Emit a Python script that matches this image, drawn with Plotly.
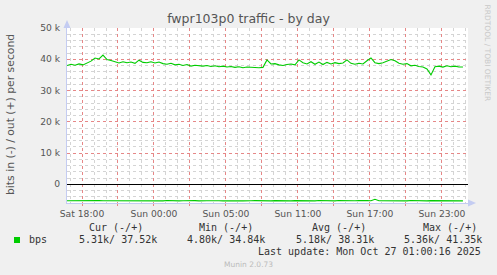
import numpy as np
import plotly.graph_objects as go

# ---------------- data ----------------
# hours after Sat 18:00 (real time, 20-minute steps starting Sat 16:45)
start_hour = -1.25
step_hour = 1 / 3

out_kbps = [
    38.0, 38.4, 38.1, 38.5, 38.2, 38.9, 39.4, 40.4, 40.1, 41.35,
    39.9, 39.6, 39.1, 38.8, 39.2, 38.9, 39.1, 38.7, 39.7, 39.0,
    38.9, 39.2, 38.8, 39.1, 38.6, 38.4, 38.7, 38.2, 38.4, 38.0,
    38.3, 37.8, 38.1, 37.9, 37.8, 38.0, 37.7, 37.9, 37.6, 37.8,
    37.5, 37.7, 37.4, 37.6, 37.3, 37.5, 37.4, 37.5, 37.3, 37.4,
    39.8, 38.5, 38.6, 38.2, 38.0, 38.3, 38.5, 38.2, 39.8, 38.9,
    38.5, 39.2, 38.4, 39.1, 38.3, 39.0, 38.5, 38.9, 38.6, 38.8,
    39.8, 38.7, 38.4, 38.7, 38.5, 39.5, 40.4, 38.9, 38.6, 38.9,
    39.4, 39.9, 39.5, 38.7, 38.4, 38.6, 37.9, 38.1, 37.7, 37.5,
    36.9, 35.0, 37.6, 37.8, 37.5, 37.9, 37.6, 37.8, 37.5, 37.52,
]

in_kbps = [
    5.30, 5.27, 5.32, 5.28, 5.22, 5.31, 5.27, 5.33, 5.24, 5.29,
    5.30, 5.21, 5.26, 5.31, 5.24, 5.28, 5.18, 5.27, 5.32, 5.25,
    5.29, 5.22, 5.30, 5.26, 5.33, 5.20, 5.28, 5.24, 5.31, 5.27,
    5.19, 5.29, 5.25, 5.32, 5.22, 5.28, 5.30, 5.19, 5.26, 5.31,
    5.24, 5.29, 5.17, 5.27, 5.33, 5.21, 5.28, 5.25, 5.30, 5.20,
    5.27, 5.32, 5.23, 5.29, 5.15, 5.26, 5.31, 5.24, 5.28, 5.21,
    5.30, 5.25, 5.33, 5.19, 5.27, 5.29, 5.22, 5.31, 5.18, 5.26,
    5.28, 5.21, 5.30, 5.25, 5.36, 5.23, 5.29, 4.80, 5.27, 5.31,
    5.24, 5.28, 5.20, 5.30, 5.26, 5.32, 5.18, 5.27, 5.29, 5.23,
    5.31, 5.25, 5.28, 5.17, 5.30, 5.26, 5.33, 5.22, 5.29, 5.31,
]

x_tick_hours = [0, 3, 6, 9, 12, 15, 18, 21, 24, 27, 30]
x_tick_labels = ["Sat 18:00", "", "Sun 00:00", "", "Sun 05:00", "",
                 "Sun 11:00", "", "Sun 17:00", "", "Sun 23:00"]
y_tick_vals = [0, 10000, 20000, 30000, 40000, 50000]
y_tick_labels = ["0", "10 k", "20 k", "30 k", "40 k", "50 k"]

legend_headers = ["Cur (-/+)", "Min (-/+)", "Avg (-/+)", "Max (-/+)"]
legend_values = ["5.31k/ 37.52k", "4.80k/ 34.84k", "5.18k/ 38.31k", "5.36k/ 41.35k"]
series_name = "bps"
title_text = "fwpr103p0 traffic - by day"
y_label = "bits in (-) / out (+) per second"
last_update = "Last update: Mon Oct 27 01:00:16 2025"
munin_version = "Munin 2.0.73"
side_text = "RRDTOOL / TOBI OETIKER"

# ---------------- figure ----------------
hours = start_hour + step_hour * np.arange(len(out_kbps))
out_vals = np.array(out_kbps) * 1000
in_vals = -np.array(in_kbps) * 1000

# minor grid positions (hourly / 2k), skipping major positions
x_minor = [h for h in range(-1, 33) if h % 3 != 0]
y_minor = [v for v in range(-6000, 50001, 2000) if v % 10000 != 0]

W, H = 497, 275
L, R, T, B = 67, 468, 28, 203

GREEN = "#00CC00"
fig = go.Figure()
fig.add_trace(go.Scatter(x=hours, y=out_vals, mode="lines",
                         line=dict(color=GREEN, width=1.1), showlegend=False))
fig.add_trace(go.Scatter(x=hours, y=in_vals, mode="lines",
                         line=dict(color=GREEN, width=1.1), showlegend=False))

MAJ = "rgb(230,135,135)"
MIN = "rgb(212,212,212)"
AX = "#C4CCF2"
DOT = "dot"

fig.update_xaxes(range=[-1.25, 32.17], tickmode="array", tickvals=x_tick_hours,
                 ticktext=x_tick_labels, showgrid=True, gridcolor=MAJ, griddash=DOT,
                 gridwidth=1,
                 minor=dict(tickmode="array", tickvals=x_minor, showgrid=True,
                            gridcolor=MIN, griddash=DOT, gridwidth=1),
                 showline=True, linecolor=AX, linewidth=1, zeroline=False,
                 ticks="outside", ticklen=2, tickcolor=MAJ,
                 tickfont=dict(family="DejaVu Sans", size=9.2, color="#555555"),
                 fixedrange=True)
fig.update_yaxes(range=[-6000, 50000], tickmode="array", tickvals=y_tick_vals,
                 ticktext=y_tick_labels, showgrid=True, gridcolor=MAJ, griddash=DOT,
                 gridwidth=1,
                 minor=dict(tickmode="array", tickvals=y_minor, showgrid=True,
                            gridcolor=MIN, griddash=DOT, gridwidth=1),
                 showline=True, linecolor=AX, linewidth=1, zeroline=True,
                 zerolinecolor="#000000", zerolinewidth=1,
                 ticks="", ticklabelstandoff=4,
                 tickfont=dict(family="DejaVu Sans", size=9.2, color="#555555"),
                 fixedrange=True)

def px(x):
    return (x - L) / (R - L)

def py(y):
    return (B - y) / (B - T)

shapes = [
    # axis arrows
    dict(type="path", xref="paper", yref="paper",
         path=f"M {px(63.5)} {py(28)} L {px(70.5)} {py(28)} L {px(67)} {py(20)} Z",
         fillcolor=AX, line=dict(width=0)),
    dict(type="path", xref="paper", yref="paper",
         path=f"M {px(468)} {py(199.5)} L {px(468)} {py(206.5)} L {px(476)} {py(203)} Z",
         fillcolor=AX, line=dict(width=0)),
    # legend swatch
    dict(type="rect", xref="paper", yref="paper",
         x0=px(14), x1=px(20), y0=py(243), y1=py(237),
         fillcolor=GREEN, line=dict(width=0)),
]

MONO = dict(family="DejaVu Sans Mono", size=10, color="#333333")
ann = []
def add_text(text, x, y, xanchor="center", font=MONO, angle=0):
    ann.append(dict(text=text, x=px(x), y=py(y), xref="paper", yref="paper",
                    showarrow=False, xanchor=xanchor, yanchor="middle", font=font,
                    textangle=angle))

header_x = [115.5, 226, 338.5, 450]
value_x = [118, 226, 335, 443]
for h, xc in zip(legend_headers, header_x):
    add_text(h, xc, 227.7)
for v, xc in zip(legend_values, value_x):
    add_text(v, xc, 239.5)
add_text(series_name, 27, 239.5, xanchor="left")
add_text(last_update, 483, 251.5, xanchor="right")
add_text(munin_version, 248, 264.5,
         font=dict(family="DejaVu Sans", size=7.5, color="#BBBBBB"))
add_text(side_text, 487.5, 53,
         font=dict(family="DejaVu Sans", size=7.5, color="#C8C8C8"), angle=90)
add_text(y_label, 10.5, 114.5,
         font=dict(family="DejaVu Sans", size=10.8, color="#555555"), angle=-90)

fig.update_layout(
    width=W, height=H,
    margin=dict(l=L, r=W - R, t=T, b=H - B, pad=0),
    paper_bgcolor="#F0F0F0", plot_bgcolor="#FFFFFF",
    title=dict(text=title_text, x=248.5 / W, xanchor="center", y=1 - 19 / H,
               yanchor="middle", yref="container",
               font=dict(family="DejaVu Sans", size=12.5, color="#555555")),
    shapes=shapes, annotations=ann, showlegend=False,
)

fig.write_html("out.html", config={"displayModeBar": False})
